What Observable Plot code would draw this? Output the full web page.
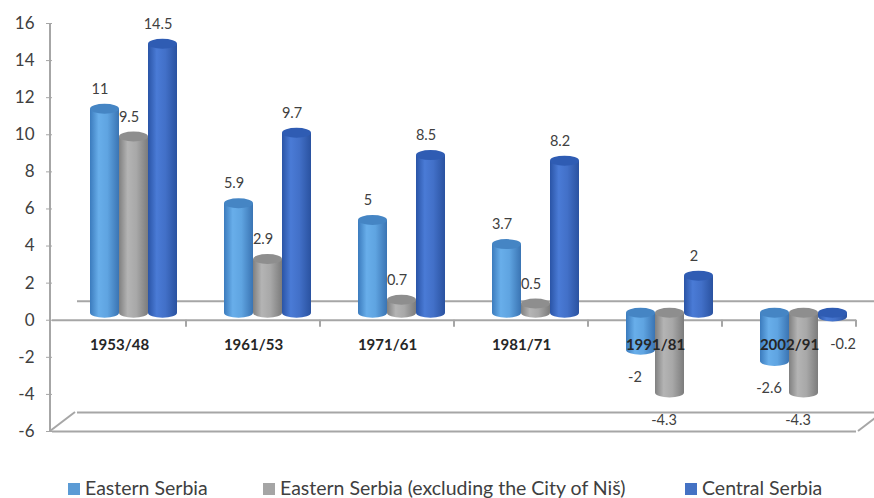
<!DOCTYPE html>
<html><head><meta charset="utf-8">
<script src="https://cdn.jsdelivr.net/npm/d3@7"></script>
<script src="https://cdn.jsdelivr.net/npm/@observablehq/plot@0.6"></script>
<style>
body{margin:0;background:#fff;font-family:Lato,"Open Sans",sans-serif;}
#chart svg{display:block}
.legend{position:relative;width:874px;height:28px;}
.item{position:absolute;top:8px;display:flex;align-items:center;font-size:19.5px;color:#404040;white-space:nowrap;line-height:19px;height:19px}
.sw{width:12px;height:12px;margin-right:5px;display:inline-block;position:relative;top:1px}
</style></head><body>
<div id="chart"></div>
<div class="legend" id="legend"></div>
<script>
const categories = ["1953/48", "1961/53", "1971/61", "1981/71", "1991/81", "2002/91"];
const series = ["Eastern Serbia", "Eastern Serbia (excluding the City of Niš)", "Central Serbia"];
const easternSerbia = [11, 5.9, 5, 3.7, -2, -2.6];
const easternSerbiaExNis = [9.5, 2.9, 0.7, 0.5, -4.3, -4.3];
const centralSerbia = [14.5, 9.7, 8.5, 8.2, 2, -0.2];
const yTicks = [-6, -4, -2, 0, 2, 4, 6, 8, 10, 12, 14, 16];
const seriesColors = ["#5b9bd5", "#a5a5a5", "#4472c4"];

const seriesValues = [easternSerbia, easternSerbiaExNis, centralSerbia];
const rows = categories.flatMap((c, i) => series.map((s, j) => ({category: c, series: s, value: seriesValues[j][i]})));

const gradIds = ["cylA", "cylB", "cylC"];
const grads = [
  {id: "cylA", stops: [["0%", "#3b7bbd"], ["30%", "#68aeea"], ["60%", "#5fa4e1"], ["100%", "#3a74b3"]], cap: "#4585c4"},
  {id: "cylB", stops: [["0%", "#808080"], ["30%", "#b4b4b4"], ["60%", "#a8a8a8"], ["100%", "#7c7c7c"]], cap: "#8e8e8e"},
  {id: "cylC", stops: [["0%", "#2a54a6"], ["30%", "#4a7bd6"], ["60%", "#4270c8"], ["100%", "#2a52a0"]], cap: "#2f5cb3"}
];

const lineColor = "#a6a6a6";
const negLeft = rows.filter(d => d.value < 0 && d.series !== series[2]);
const negRight = rows.filter(d => d.value < 0 && d.series === series[2]);

const chart = Plot.plot({
  width: 874, height: 470,
  marginLeft: 50, marginRight: 16, marginTop: 23, marginBottom: 39,
  style: {fontFamily: "Lato, 'Open Sans', sans-serif", background: "white", overflow: "visible"},
  fx: {domain: categories, padding: 0, axis: null},
  x: {domain: series, paddingInner: 0, paddingOuter: 0.745, axis: null},
  y: {domain: [-6, 16]},
  color: {domain: series, range: gradIds.map(id => `url(#${id})`)},
  marks: [
    Plot.ruleY([0], {dx: 25, dy: -19, stroke: lineColor, strokeWidth: 2}),
    Plot.ruleY([-6], {dx: 25, dy: -19, stroke: lineColor, strokeWidth: 2}),
    Plot.ruleY([-6], {stroke: lineColor, strokeWidth: 2}),
    Plot.ruleY([0], {stroke: lineColor, strokeWidth: 2}),
    Plot.axisY(yTicks, {tickSize: 6, tickPadding: 12, fontSize: 17, stroke: lineColor, fill: "#404040", label: null, tickFormat: d => String(d)}),
    Plot.barY(rows, {fx: "category", x: "series", y: "value", fill: "series", dx: 14, dy: -7}),
    Plot.text(categories, {fx: d => d, y: d => 0, text: d => d, dy: 25, fontWeight: "bold", fontSize: 15, fill: "#262626"}),
    Plot.text(rows.filter(d => d.value >= 0), {fx: "category", x: "series", y: "value", text: d => String(d.value), dx: 9, dy: -27, fontSize: 14.5, fill: "#404040"}),
    Plot.text(negLeft, {fx: "category", x: "series", y: "value", text: d => String(d.value), dx: 8, dy: 20, fontSize: 14.5, fill: "#404040"}),
    Plot.text(negRight, {fx: "category", x: "series", y: "value", text: d => String(d.value), dx: 24, dy: 20, fontSize: 14.5, fill: "#404040"})
  ]
});

const s = d3.select(chart);
const defs = s.insert("defs", ":first-child");
const capByUrl = {};
grads.forEach(g => {
  const lg = defs.append("linearGradient").attr("id", g.id).attr("x1", "0").attr("x2", "1").attr("y1", "0").attr("y2", "0");
  g.stops.forEach(([o, c]) => lg.append("stop").attr("offset", o).attr("stop-color", c));
  capByUrl[`url(#${g.id})`] = g.cap;
});

// cylinder caps from the rendered bars
s.selectAll('g[aria-label="bar"] rect').each(function() {
  const r = d3.select(this);
  const x = +r.attr("x"), y = +r.attr("y"), w = +r.attr("width"), h = +r.attr("height");
  const fill = r.attr("fill");
  const cx = x + w / 2;
  const parent = this.parentNode;
  const bottom = document.createElementNS("http://www.w3.org/2000/svg", "ellipse");
  bottom.setAttribute("cx", cx); bottom.setAttribute("cy", y + h);
  bottom.setAttribute("rx", w / 2); bottom.setAttribute("ry", 5);
  bottom.setAttribute("fill", fill);
  parent.insertBefore(bottom, this);
  const top = document.createElementNS("http://www.w3.org/2000/svg", "ellipse");
  top.setAttribute("cx", cx); top.setAttribute("cy", y);
  top.setAttribute("rx", w / 2); top.setAttribute("ry", 5);
  top.setAttribute("fill", capByUrl[fill] || "#666");
  this.after(top);
});

// frame lines: y axis line, floor diagonals, category ticks
const yS = chart.scale("y");
const fxS = chart.scale("fx");
const frame = s.insert("g", "defs + *").attr("stroke", lineColor).attr("stroke-width", 2).attr("fill", "none");
const left = 50, right = 874 - 16;
frame.append("line").attr("x1", left).attr("x2", left).attr("y1", yS.apply(16)).attr("y2", yS.apply(-6));
frame.append("line").attr("x1", left).attr("x2", left + 25).attr("y1", yS.apply(-6)).attr("y2", yS.apply(-6) - 19);
frame.append("line").attr("x1", right).attr("x2", right + 25).attr("y1", yS.apply(-6)).attr("y2", yS.apply(-6) - 19);
const bounds = categories.map(c => fxS.apply(c)).slice(1).concat([fxS.apply(categories[categories.length - 1]) + fxS.bandwidth]);
bounds.forEach(bx => frame.append("line").attr("x1", bx).attr("x2", bx).attr("y1", yS.apply(0)).attr("y2", yS.apply(0) + 7));

document.getElementById("chart").appendChild(chart);

const legendLefts = [68, 263, 685];
const lg = document.getElementById("legend");
series.forEach((name, i) => {
  const it = document.createElement("div");
  it.className = "item";
  it.style.left = legendLefts[i] + "px";
  const sw = document.createElement("span");
  sw.className = "sw";
  sw.style.background = seriesColors[i];
  it.appendChild(sw);
  it.appendChild(document.createTextNode(name));
  lg.appendChild(it);
});
</script>
</body></html>
